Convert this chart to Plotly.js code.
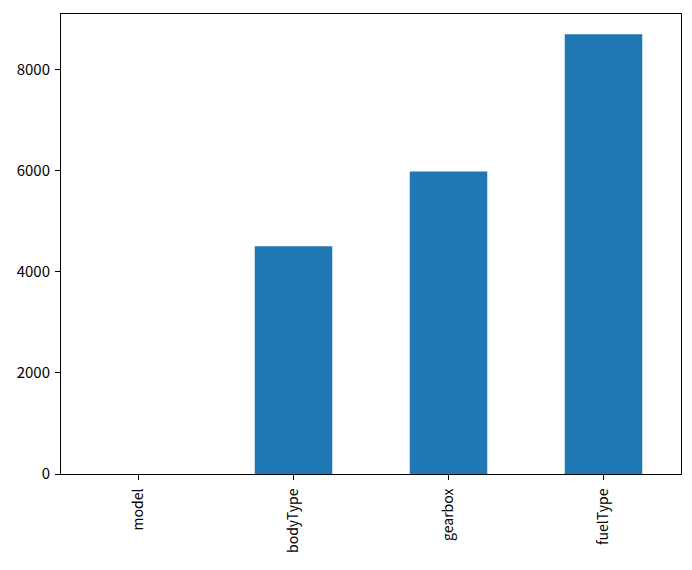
<!DOCTYPE html>
<html><head><meta charset="utf-8">
<script src="https://cdn.plot.ly/plotly-3.0.1.min.js"></script>
<style>html,body{margin:0;padding:0;background:#fff;}</style>
</head><body>
<div id="chart" style="width:692px;height:570px;"></div>
<script>
var categories = ["model", "bodyType", "gearbox", "fuelType"];
var counts = [1, 4504, 5985, 8701];
var yTicks = [0, 2000, 4000, 6000, 8000];

var trace = {
  type: "bar",
  x: [0, 1, 2, 3],
  y: counts,
  width: 0.5,
  marker: {color: "#1f77b4", line: {width: 0}},
  hoverinfo: "x+y"
};
var layout = {
  width: 692, height: 570,
  margin: {l: 61, r: 11, t: 14, b: 96, pad: 0},
  paper_bgcolor: "#fff", plot_bgcolor: "#fff",
  showlegend: false,
  font: {family: "Noto Sans CJK SC, DejaVu Sans, sans-serif", size: 14, color: "#000"},
  xaxis: {
    range: [-0.5, 3.5],
    tickmode: "array", tickvals: [0, 1, 2, 3], ticktext: categories,
    tickangle: -90,
    tickfont: {size: 14},
    ticks: "outside", ticklen: 5, tickwidth: 1, tickcolor: "#000",
    ticklabelstandoff: 3,
    showline: true, linecolor: "#000", linewidth: 1, mirror: true,
    showgrid: false, zeroline: false
  },
  yaxis: {
    range: [0, 9100],
    tickmode: "array", tickvals: yTicks, ticktext: yTicks.map(String),
    tickfont: {size: 15},
    ticks: "outside", ticklen: 5, tickwidth: 1, tickcolor: "#000",
    ticklabelstandoff: 2,
    showline: true, linecolor: "#000", linewidth: 1, mirror: true,
    showgrid: false, zeroline: false
  }
};
Plotly.newPlot("chart", [trace], layout, {displayModeBar: false, staticPlot: true});
</script>
</body></html>
